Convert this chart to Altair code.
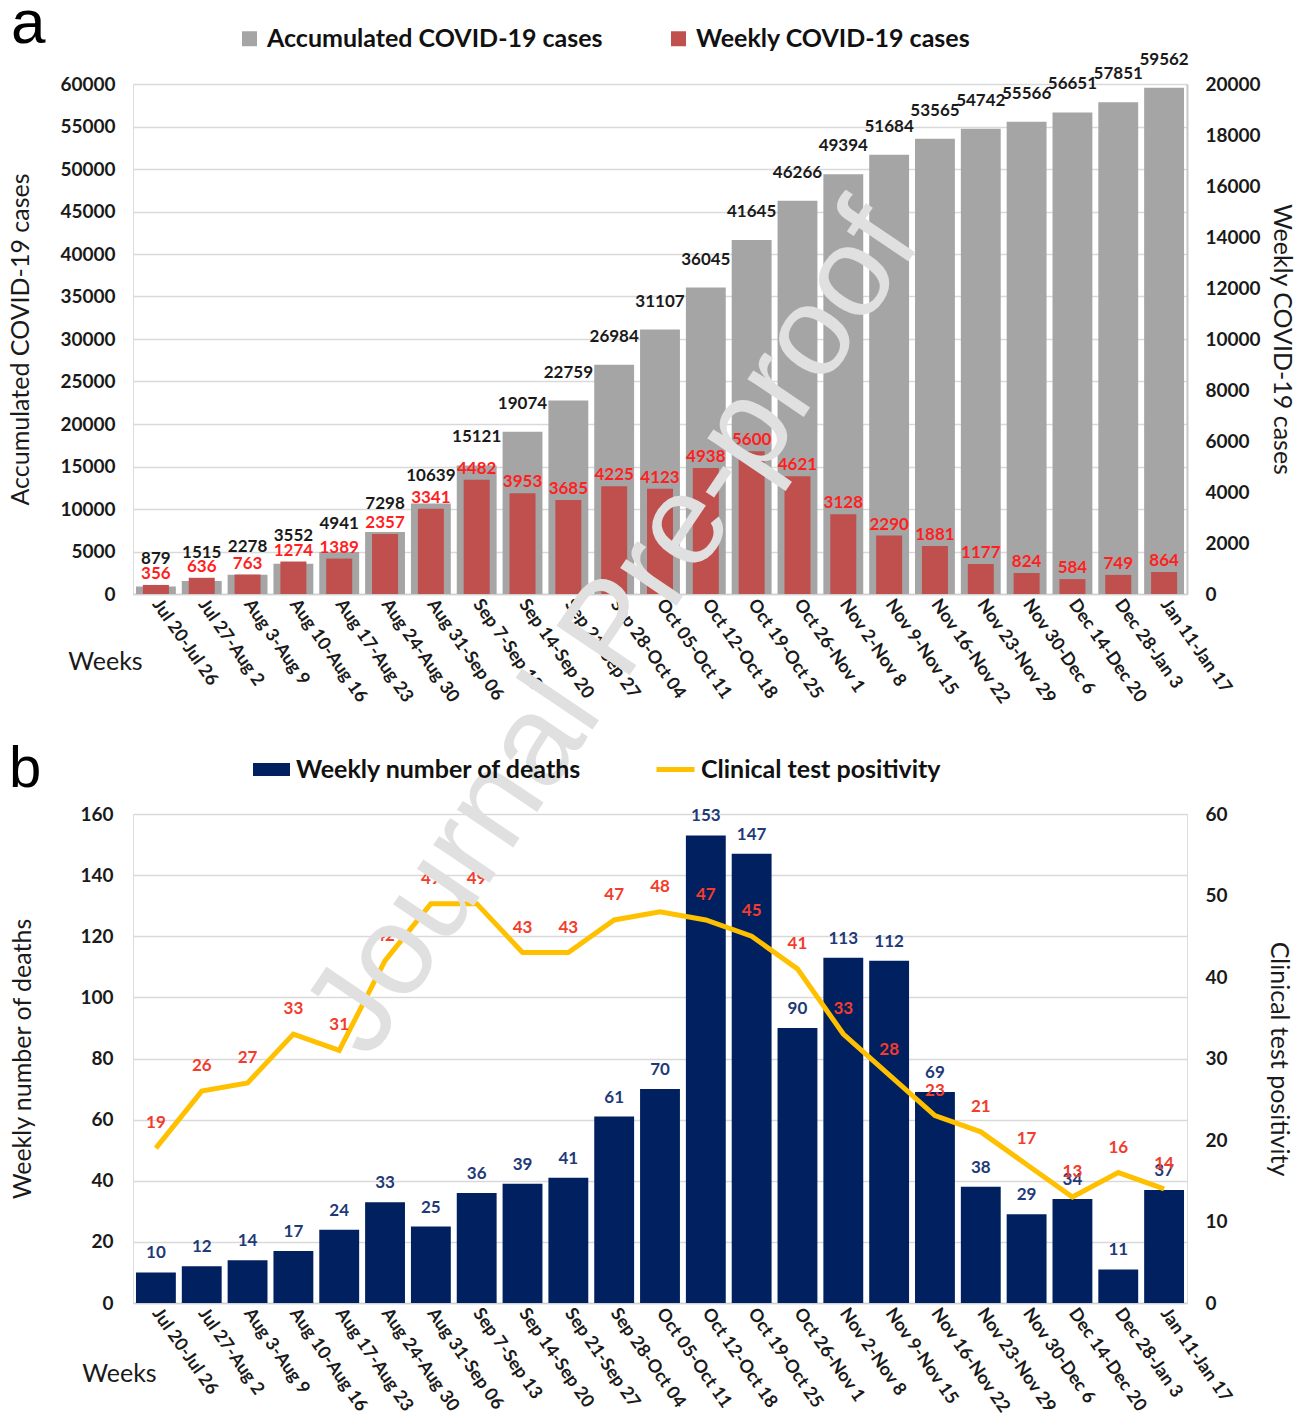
import altair as alt
import pandas as pd

# ---------------- data ----------------
weeks = ["Jul 20-Jul 26", "Jul 27-Aug 2", "Aug 3-Aug 9", "Aug 10-Aug 16", "Aug 17-Aug 23",
         "Aug 24-Aug 30", "Aug 31-Sep 06", "Sep 7-Sep 13", "Sep 14-Sep 20", "Sep 21-Sep 27",
         "Sep 28-Oct 04", "Oct 05-Oct 11", "Oct 12-Oct 18", "Oct 19-Oct 25", "Oct 26-Nov 1",
         "Nov 2-Nov 8", "Nov 9-Nov 15", "Nov 16-Nov 22", "Nov 23-Nov 29", "Nov 30-Dec 6",
         "Dec 14-Dec 20", "Dec 28-Jan 3", "Jan 11-Jan 17"]
accumulated = [879, 1515, 2278, 3552, 4941, 7298, 10639, 15121, 19074, 22759, 26984, 31107,
               36045, 41645, 46266, 49394, 51684, 53565, 54742, 55566, 56651, 57851, 59562]
weekly = [356, 636, 763, 1274, 1389, 2357, 3341, 4482, 3953, 3685, 4225, 4123,
          4938, 5600, 4621, 3128, 2290, 1881, 1177, 824, 584, 749, 864]
deaths = [10, 12, 14, 17, 24, 33, 25, 36, 39, 41, 61, 70,
          153, 147, 90, 113, 112, 69, 38, 29, 34, 11, 37]
positivity = [19, 26, 27, 33, 31, 42, 49, 49, 43, 43, 47, 48,
              47, 45, 41, 33, 28, 23, 21, 17, 13, 16, 14]

ACC = "Accumulated COVID-19 cases"
WK = "Weekly COVID-19 cases"
DTH = "Weekly number of deaths"
POS = "Clinical test positivity"

FONT = "Lato"
W = 1054
HA = 510
HB = 489
GRAY = "#a5a5a5"
RED = "#c0504d"
NAVY = "#002060"
YEL = "#ffc000"
TXT = "#1a1a1a"

dfa = pd.DataFrame({"week": weeks, "acc": accumulated, "wk": weekly})
dfa["s1"] = ACC
dfa["s2"] = WK
dfb = pd.DataFrame({"week": weeks, "deaths": deaths, "pos": positivity})
dfb["s3"] = DTH
dfb["s4"] = POS


def x_enc(title_x, title_y):
    return alt.X(
        "week:N", sort=weeks,
        scale=alt.Scale(paddingInner=0.13, paddingOuter=0.065),
        axis=alt.Axis(
            title="Weeks", labelAngle=55, labelFont=FONT, labelFontSize=18,
            labelFontWeight="bold", labelColor=TXT, labelPadding=7, ticks=False,
            domainColor="#d0d0d0", domainWidth=1.5, labelLimit=0, grid=False,
            titleFont=FONT, titleFontSize=25, titleFontWeight="normal", titleColor=TXT,
            titleAngle=0, titleX=title_x, titleY=title_y, titleAlign="center",
            titleBaseline="middle"),
    )


def left_axis(title, values, label_pad, title_pad):
    return alt.Axis(
        title=title, values=values, format="d", labelFont=FONT, labelFontSize=19,
        labelFontWeight="bold", labelColor=TXT, labelPadding=label_pad, ticks=False,
        domain=False, grid=True, gridColor="#d9d9d9", gridWidth=1.5, titleFont=FONT,
        titleFontSize=25, titleFontWeight="normal", titleColor=TXT, titlePadding=title_pad)


def right_axis(title, values, domain, title_pad):
    return alt.Axis(
        title=title, orient="right", values=values, format="d", labelFont=FONT,
        labelFontSize=19, labelFontWeight="bold", labelColor=TXT, labelPadding=18,
        ticks=False, grid=False, domain=domain, domainColor="#c8c8c8", domainWidth=2,
        titleFont=FONT, titleFontSize=25, titleFontWeight="normal", titleColor=TXT,
        titlePadding=title_pad)


# ---------------- panel a ----------------
base_a = alt.Chart(dfa)
xa = x_enc(-28, 67)
y_acc = alt.Y("acc:Q", scale=alt.Scale(domain=[0, 60000], nice=False),
              axis=left_axis(ACC, list(range(0, 60001, 5000)), 18, 26))
y_wk = alt.Y("wk:Q", scale=alt.Scale(domain=[0, 20000], nice=False),
             axis=right_axis(WK, list(range(0, 20001, 2000)), True, 8))

col_a = alt.Scale(domain=[ACC, WK], range=[GRAY, RED])

gray_bars = base_a.mark_bar().encode(
    x=xa, y=y_acc,
    color=alt.Color("s1:N", scale=col_a, legend=alt.Legend(
        title=None, orient="none", legendX=104, legendY=-58, direction="horizontal",
        symbolType="square", symbolSize=225, symbolStrokeWidth=0, labelFont=FONT,
        labelFontSize=25, labelFontWeight="bold", labelColor="#111111",
        columnPadding=63, labelOffset=5, labelLimit=0, padding=0)))
acc_text = base_a.mark_text(baseline="bottom", dy=-19, font=FONT, fontSize=17,
                            fontWeight="bold", color=TXT).encode(
    x=xa, y=y_acc, text=alt.Text("acc:Q", format="d"))

red_bars = base_a.mark_bar(size=26).encode(
    x=xa, y=y_wk, color=alt.Color("s2:N", scale=col_a, legend=None))
wk_text = base_a.mark_text(baseline="bottom", dy=-2, font=FONT, fontSize=17,
                           fontWeight="bold", color="#ff1f1f").encode(
    x=xa, y=y_wk, text=alt.Text("wk:Q", format="d"))

letter_a = alt.Chart(pd.DataFrame({"t": ["a"]})).mark_text(
    font="Liberation Sans", fontSize=62, align="left", baseline="top", color="#000000"
).encode(text="t:N", x=alt.value(-122), y=alt.value(-90))

panel_a = alt.layer(
    alt.layer(gray_bars, acc_text),
    alt.layer(red_bars, wk_text),
    letter_a,
).resolve_scale(y="independent").properties(width=W, height=HA)

# ---------------- panel b ----------------
base_b = alt.Chart(dfb)
xb = x_enc(-14, 70)
y_d = alt.Y("deaths:Q", scale=alt.Scale(domain=[0, 160], nice=False),
            axis=left_axis("Weekly number of deaths", list(range(0, 161, 20)), 20, 44))
y_p = alt.Y("pos:Q", scale=alt.Scale(domain=[0, 60], nice=False),
            axis=right_axis(POS, list(range(0, 61, 10)), False, 38))

death_bars = base_b.mark_bar().encode(
    x=xb, y=y_d,
    color=alt.Color("s3:N", scale=alt.Scale(domain=[DTH], range=[NAVY]), legend=alt.Legend(
        title=None, orient="none", legendX=120, legendY=-63,
        symbolType="M-1,-0.35H1V0.35H-1Z", symbolSize=1369, symbolStrokeWidth=0,
        labelFont=FONT, labelFontSize=25, labelFontWeight="bold", labelColor="#111111",
        labelOffset=6, labelLimit=0, padding=0)))
death_text = base_b.mark_text(baseline="bottom", dy=-10, font=FONT, fontSize=17,
                              fontWeight="bold", color="#1f3a78").encode(
    x=xb, y=y_d, text=alt.Text("deaths:Q", format="d"))

pos_line = base_b.mark_line(strokeWidth=5).encode(
    x=xb, y=y_p,
    stroke=alt.Stroke("s4:N", scale=alt.Scale(domain=[POS], range=[YEL]), legend=alt.Legend(
        title=None, orient="none", legendX=521, legendY=-66, symbolType="stroke",
        symbolSize=1444, symbolStrokeWidth=5, labelFont=FONT, labelFontSize=25,
        labelFontWeight="bold", labelColor="#111111", labelOffset=4, labelLimit=0,
        padding=0)))
pos_text = base_b.mark_text(baseline="bottom", dy=-16, font=FONT, fontSize=17,
                            fontWeight="bold", color="#f23c2c").encode(
    x=xb, y=y_p, text=alt.Text("pos:Q", format="d"))

letter_b = alt.Chart(pd.DataFrame({"t": ["b"]})).mark_text(
    font="Liberation Sans", fontSize=58, align="left", baseline="top", color="#000000"
).encode(text="t:N", x=alt.value(-124), y=alt.value(-73))

watermark = alt.Chart(pd.DataFrame({"t": ["Journal Pre-proof"]})).mark_text(
    font="Liberation Sans", fontSize=128, align="center", baseline="middle",
    angle=304, color="#e0e0e0"
).encode(text="t:N", x=alt.value(481), y=alt.value(-184))

panel_b = alt.layer(
    alt.layer(death_bars, death_text),
    alt.layer(pos_line, pos_text),
    letter_b,
    watermark,
).resolve_scale(y="independent").properties(width=W, height=HB)

chart = alt.vconcat(panel_a, panel_b, spacing=220, bounds="flush").resolve_scale(
    color="independent", stroke="independent"
).resolve_legend(color="independent", stroke="independent").properties(
    padding={"left": 0, "top": -16, "right": 0, "bottom": 0}
).configure_view(stroke=None).configure(font=FONT)

chart.save("out.html", embed_options={"renderer": "svg", "actions": False})
